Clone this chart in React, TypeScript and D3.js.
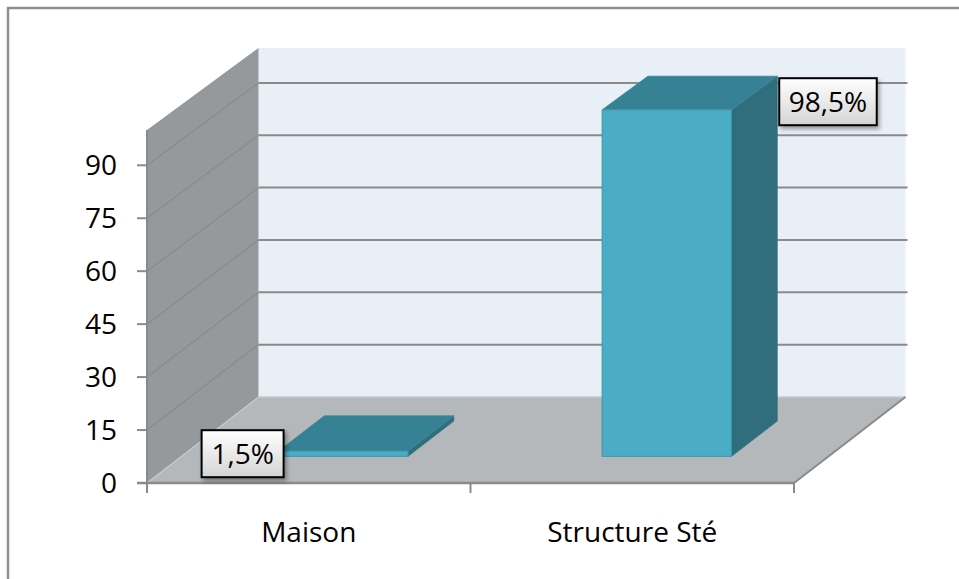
import React from "react";
import * as d3 from "d3";

const categories = ["Maison", "Structure Sté"];
const values = [1.5, 98.5];
const valueLabels = ["1,5%", "98,5%"];
const yTicks = [0, 15, 30, 45, 60, 75, 90];

const W = 959;
const H = 579;
const FONT = "'Open Sans', 'Noto Sans', sans-serif";

// plot geometry (front plane + oblique depth)
const X0 = 147, X1 = 794;
const DX = 111.5;
const yFront = d3.scaleLinear().domain([0, 100]).range([483, 130]);
const yBack = d3.scaleLinear().domain([0, 100]).range([397, 48]);
const xBand = d3.scaleBand<string>().domain(categories).range([X0, X1]).paddingInner(0).paddingOuter(0);

const px = (x: number, d: number) => x + d * DX;
const py = (v: number, d: number) => yFront(v) * (1 - d) + yBack(v) * d;
const pt = (x: number, v: number, d: number) => `${px(x, d)},${py(v, d)}`;

const BAR_D0 = 0.31, BAR_D1 = 0.72;
const BAR_FRAC = 0.4;

const C = {
  front: "#4BACC6",
  top: "#378194",
  side: "#316E7D",
  leftWall: "#95999B",
  floor: "#B5B8BA",
  backWall: "#E9EFF7",
  grid: "#8A8A8A",
  axis: "#8A8A8A",
};

export default function App() {
  const gridVals = yTicks.filter((v) => v > 0);
  return (
    <svg width={W} height={H} style={{ position: "absolute", left: 0, top: 0, background: "#fff" }}>
      <defs>
        <linearGradient id="lblGrad" x1="0" y1="0" x2="0" y2="1">
          <stop offset="0" stopColor="#ffffff" />
          <stop offset="1" stopColor="#d4d4d4" />
        </linearGradient>
        <filter id="shadow" x="-20%" y="-20%" width="140%" height="150%">
          <feDropShadow dx="2" dy="3" stdDeviation="2" floodColor="#000" floodOpacity="0.35" />
        </filter>
      </defs>
      <rect x={8} y={8} width={W + 20} height={H + 20} fill="#fff" stroke="#8e8e8e" strokeWidth={2.5} />

      {/* back wall */}
      <polygon points={[pt(X0, 0, 1), pt(X1, 0, 1), pt(X1, 100, 1), pt(X0, 100, 1)].join(" ")} fill={C.backWall} />
      {/* left wall */}
      <polygon points={[pt(X0, 0, 0), pt(X0, 100, 0), pt(X0, 100, 1), pt(X0, 0, 1)].join(" ")} fill={C.leftWall} />
      {/* floor */}
      <polygon points={[pt(X0, 0, 0), pt(X1, 0, 0), pt(X1, 0, 1), pt(X0, 0, 1)].join(" ")} fill={C.floor} />

      {/* gridlines */}
      {gridVals.map((v) => (
        <g key={v}>
          <line x1={px(X0, 1)} x2={px(X1, 1) + 2} y1={py(v, 1)} y2={py(v, 1)} stroke={C.grid} strokeWidth={2} />
          <line x1={px(X0, 0)} x2={px(X0, 1)} y1={py(v, 0)} y2={py(v, 1)} stroke={C.grid} strokeWidth={1.2} />
        </g>
      ))}
      <line x1={px(X0, 1)} x2={px(X1, 1)} y1={py(0, 1)} y2={py(0, 1)} stroke="#c8cacc" strokeWidth={1.5} />
      <line x1={px(X0, 0)} x2={px(X0, 1)} y1={py(0, 0)} y2={py(0, 1)} stroke="#c8cacc" strokeWidth={1.2} />
      {/* floor right edge */}
      <line x1={px(X1, 0)} x2={px(X1, 1)} y1={py(0, 0)} y2={py(0, 1)} stroke={C.axis} strokeWidth={2} />

      {/* axes */}
      <line x1={X0} x2={X0} y1={yFront(100)} y2={yFront(0)} stroke={C.axis} strokeWidth={2} />
      <line x1={X0 - 10} x2={X1} y1={yFront(0)} y2={yFront(0)} stroke={C.axis} strokeWidth={2.5} />
      {yTicks.map((v) => (
        <g key={v}>
          <line x1={X0 - 10} x2={X0} y1={yFront(v)} y2={yFront(v)} stroke={C.axis} strokeWidth={2} />
          <text x={117} y={yFront(v)} dy="0.36em" textAnchor="end" fontFamily={FONT} fontSize={28} fill="#000">
            {v}
          </text>
        </g>
      ))}
      {[X0, ...categories.map((c) => (xBand(c) as number) + xBand.bandwidth())].map((x, i) => (
        <line key={i} x1={x} x2={x} y1={yFront(0)} y2={yFront(0) + 10} stroke={C.axis} strokeWidth={2} />
      ))}
      {categories.map((c) => (
        <text key={c} x={(xBand(c) as number) + xBand.bandwidth() / 2} y={542} textAnchor="middle" fontFamily={FONT} fontSize={28} fill="#000">
          {c}
        </text>
      ))}

      {/* bars */}
      {categories.map((c, i) => {
        const bw = xBand.bandwidth() * BAR_FRAC;
        const xl = (xBand(c) as number) + (xBand.bandwidth() - bw) / 2;
        const xr = xl + bw;
        const v = values[i];
        const front = [pt(xl, 0, BAR_D0), pt(xr, 0, BAR_D0), pt(xr, v, BAR_D0), pt(xl, v, BAR_D0)].join(" ");
        const top = [pt(xl, v, BAR_D0), pt(xr, v, BAR_D0), pt(xr, v, BAR_D1), pt(xl, v, BAR_D1)].join(" ");
        const side = [pt(xr, 0, BAR_D0), pt(xr, 0, BAR_D1), pt(xr, v, BAR_D1), pt(xr, v, BAR_D0)].join(" ");
        return (
          <g key={c}>
            <polygon points={side} fill={C.side} stroke={C.side} strokeWidth={0.8} />
            <polygon points={top} fill={C.top} stroke="#3a8a9c" strokeWidth={0.8} />
            <polygon points={front} fill={C.front} stroke="#3f93a9" strokeWidth={1} />
          </g>
        );
      })}

      {/* data labels */}
      {categories.map((c, i) => {
        const bw = xBand.bandwidth() * BAR_FRAC;
        const xl = (xBand(c) as number) + (xBand.bandwidth() - bw) / 2;
        const xr = xl + bw;
        const v = values[i];
        const label = valueLabels[i];
        const w = label.length * 15.5 + 20;
        const h = 47;
        let bx: number, by: number;
        if (i === 0) {
          bx = px(xl, BAR_D0) + 5 - w;
          by = (py(0, BAR_D0) + py(v, BAR_D0)) / 2 - h / 2;
        } else {
          bx = px(xr, BAR_D1) + 2;
          by = py(v, BAR_D1) + 2;
        }
        return (
          <g key={c}>
            <rect x={bx} y={by} width={w} height={h} fill="url(#lblGrad)" stroke="#000" strokeWidth={2} filter="url(#shadow)" />
            <text x={bx + w / 2} y={by + h / 2} dy="0.36em" textAnchor="middle" fontFamily={FONT} fontSize={28} fill="#000">
              {label}
            </text>
          </g>
        );
      })}
    </svg>
  );
}
